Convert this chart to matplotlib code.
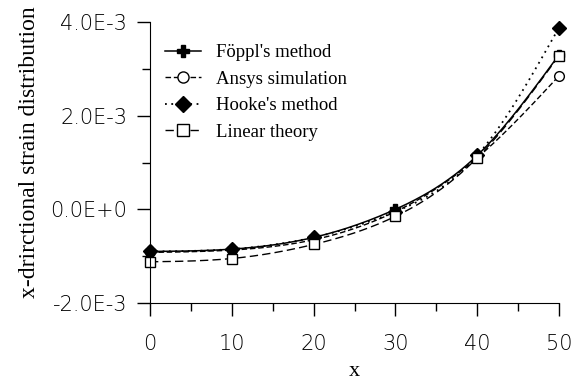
import numpy as np
import matplotlib
matplotlib.use("Agg")
import matplotlib.pyplot as plt
from matplotlib.ticker import MultipleLocator, FuncFormatter

x = [0, 10, 20, 30, 40, 50]
foppl = [-0.90e-3, -0.85e-3, -0.60e-3, 0.00e-3, 1.15e-3, 3.30e-3]
ansys = [-0.92e-3, -0.87e-3, -0.65e-3, -0.05e-3, 1.10e-3, 2.85e-3]
hooke = [-0.90e-3, -0.85e-3, -0.60e-3, -0.05e-3, 1.15e-3, 3.88e-3]
linear = [-1.12e-3, -1.05e-3, -0.75e-3, -0.15e-3, 1.10e-3, 3.28e-3]
labels = ["Föppl's method", "Ansys simulation", "Hooke's method", "Linear theory"]


def spline(xs, ys, n=200):
    xs = np.asarray(xs, float); ys = np.asarray(ys, float)
    m = len(xs); h = np.diff(xs)
    A = np.zeros((m, m)); b = np.zeros(m)
    A[0, 0] = A[-1, -1] = 1
    for i in range(1, m - 1):
        A[i, i - 1] = h[i - 1]; A[i, i] = 2 * (h[i - 1] + h[i]); A[i, i + 1] = h[i]
        b[i] = 3 * ((ys[i + 1] - ys[i]) / h[i] - (ys[i] - ys[i - 1]) / h[i - 1])
    c = np.linalg.solve(A, b)
    xx = np.linspace(xs[0], xs[-1], n); yy = np.empty_like(xx)
    for k, xv in enumerate(xx):
        i = min(np.searchsorted(xs, xv, side='right') - 1, m - 2)
        dx = xv - xs[i]
        bb = (ys[i + 1] - ys[i]) / h[i] - h[i] * (2 * c[i] + c[i + 1]) / 3
        d = (c[i + 1] - c[i]) / (3 * h[i])
        yy[k] = ys[i] + bb * dx + c[i] * dx ** 2 + d * dx ** 3
    return xx, yy


fig = plt.figure(figsize=(5.78, 3.84), dpi=100)
ax = fig.add_axes([150 / 578, 1 - 303 / 384, 409 / 578, 281 / 384])

series = [
    (foppl, '-', 'P', 'black', 1.1),
    (ansys, (0, (4, 2)), 'o', 'white', 1.0),
    (hooke, (0, (1, 2.5)), 'D', 'black', 1.3),
    (linear, (0, (6, 3)), 's', 'white', 1.0),
]
handles = []
for ys, ls, mk, fc, lw in series:
    xx, yy = spline(x, ys)
    ax.plot(xx, yy, color='black', ls=ls, lw=lw, clip_on=False)
    ax.plot(x, ys, ls='none', marker=mk, ms=7, mfc=fc, mec='black', mew=1.0, clip_on=False)
    h, = ax.plot([], [], color='black', ls=ls, lw=lw, marker=mk, ms=8, mfc=fc, mec='black')
    handles.append(h)

ax.set_xlim(0, 50)
ax.set_ylim(-2e-3, 4e-3)
ax.xaxis.set_major_locator(MultipleLocator(10))
ax.xaxis.set_minor_locator(MultipleLocator(5))
ax.yaxis.set_major_locator(MultipleLocator(2e-3))
ax.yaxis.set_minor_locator(MultipleLocator(1e-3))


def fmt(v, pos):
    if abs(v) < 1e-9:
        return "0.0E+0"
    return "%.1fE-3" % (v * 1e3)


ax.yaxis.set_major_formatter(FuncFormatter(fmt))
for s in ['top', 'right']:
    ax.spines[s].set_visible(False)
ax.tick_params(axis='both', which='major', length=9.5, width=1, direction='out', labelsize=15)
ax.tick_params(axis='both', which='minor', length=6, width=1, direction='out')
for t in ax.get_xticklabels() + ax.get_yticklabels():
    t.set_family('DejaVu Sans')
    t.set_fontweight('light')
ax.tick_params(axis='x', pad=13)
ax.tick_params(axis='y', pad=7)

ax.set_xlabel('x', family='Liberation Serif', fontsize=16)
ax.xaxis.set_label_coords(0.5, (303 - 362) / 281)
ax.set_ylabel('x-drirctional strain distribution', family='Liberation Serif', fontsize=17)
ax.yaxis.set_label_coords((40 - 150) / 409, (303 - 152) / 281)

ax.legend(handles, labels, loc='upper left', bbox_to_anchor=(15 / 409, (303 - 44) / 281), frameon=False,
          prop={'family': 'Liberation Serif', 'size': 13.5}, handlelength=1.9,
          labelspacing=0.5, handletextpad=0.8, borderaxespad=0, borderpad=0)

fig.savefig('out.png', dpi=100)
